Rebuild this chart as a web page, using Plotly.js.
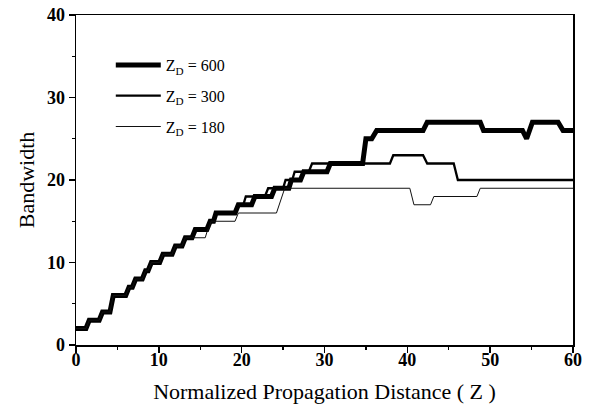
<!DOCTYPE html>
<html>
<head>
<meta charset="utf-8">
<script src="https://cdn.plot.ly/plotly-3.0.1.min.js"></script>
<style>html,body{margin:0;padding:0;background:#fff;}#chart{width:591px;height:413px;}</style>
</head>
<body>
<div id="chart"></div>
<script>
// Z_D = 600 (thick)
var z600_x = [0,1.2,1.6,2.8,3.2,4.1,4.5,6.0,6.4,6.8,7.2,8.0,8.4,8.7,9.1,10.1,10.5,11.6,12.0,12.8,13.2,14.0,14.4,15.8,16.2,16.6,16.9,19.2,19.6,21.2,21.6,23.6,24.0,25.7,26.0,27.1,27.5,30.3,30.7,34.6,35.0,35.7,36.3,41.9,42.4,48.8,49.2,53.9,54.4,55.1,58.2,58.8,60];
var z600_y = [2,2,3,3,4,4,6,6,7,7,8,8,9,9,10,10,11,11,12,12,13,13,14,14,15,15,16,16,17,17,18,18,19,19,20,20,21,21,22,22,25,25,26,26,27,27,26,26,25,27,27,26,26];
// Z_D = 300 (medium)
var z300_x = [0,1.2,1.6,2.8,3.2,4.1,4.5,6.0,6.4,6.8,7.2,8.0,8.4,8.7,9.1,10.1,10.5,11.6,12.0,12.8,13.2,14.0,14.4,15.8,16.2,16.6,16.9,19.2,19.6,20.2,20.5,22.8,23.2,25.0,25.3,26.1,26.4,28.1,28.5,37.9,38.3,41.9,42.4,45.6,46.1,60];
var z300_y = [2,2,3,3,4,4,6,6,7,7,8,8,9,9,10,10,11,11,12,12,13,13,14,14,15,15,16,16,17,17,18,18,19,19,20,20,21,21,22,22,23,23,22,22,20,20];
// Z_D = 180 (thin)
var z180_x = [0,1.2,1.6,2.8,3.2,4.1,4.5,6.0,6.4,6.8,7.2,8.0,8.4,8.7,9.1,10.1,10.5,11.6,12.0,12.8,13.2,15.6,15.9,16.0,16.3,19.2,19.6,24.2,25.2,40.3,40.8,42.8,43.2,48.4,48.8,60];
var z180_y = [2,2,3,3,4,4,6,6,7,7,8,8,9,9,10,10,11,11,12,12,13,13,14,14,15,15,16,16,19,19,17,17,18,18,19,19];

var seriesNames = ['Z<sub>D</sub> = 600','Z<sub>D</sub> = 300','Z<sub>D</sub> = 180'];
var xTicks = [0,10,20,30,40,50,60];
var yTicks = [0,10,20,30,40];

var FONT = 'Liberation Serif, Times New Roman, serif';
var traces = [
  {x: z600_x, y: z600_y, name: seriesNames[0], mode: 'lines', line: {color: '#000', width: 5}, legendgroup: 'a'},
  {x: z300_x, y: z300_y, name: seriesNames[1], mode: 'lines', line: {color: '#000', width: 2.3}, legendgroup: 'b'},
  {x: z180_x, y: z180_y, name: seriesNames[2], mode: 'lines', line: {color: '#111', width: 1}, legendgroup: 'c'}
];

var axisCommon = {
  showgrid: false, zeroline: false, showline: true, linecolor: '#000', linewidth: 1.5,
  mirror: true, ticks: 'outside', ticklen: 6, tickwidth: 1.5, tickcolor: '#000',
  tickfont: {family: FONT, size: 18, color: '#000', weight: 'bold'},
  minor: {ticks: 'outside', ticklen: 3, tickwidth: 1.2, tickcolor: '#000', dtick: 5, showgrid: false}
};

var layout = {
  width: 591, height: 413,
  margin: {l: 76, r: 18, t: 15, b: 68},
  paper_bgcolor: '#fff', plot_bgcolor: '#fff',
  showlegend: true,
  legend: {x: 0.07, y: 0.90, xanchor: 'left', yanchor: 'top', bgcolor: 'rgba(0,0,0,0)',
           font: {family: FONT, size: 16, color: '#000'}, itemwidth: 45, traceorder: 'grouped', tracegroupgap: 7},
  xaxis: Object.assign({}, axisCommon, {range: [0, 60], tickvals: xTicks, ticktext: xTicks.map(String),
           ticklabelstandoff: -8,
           title: {text: 'Normalized Propagation Distance ( Z )', font: {family: FONT, size: 22, color: '#000'}, standoff: 14}}),
  yaxis: Object.assign({}, axisCommon, {range: [0, 40], tickvals: yTicks, ticktext: yTicks.map(String),
           title: {text: 'Bandwidth', font: {family: FONT, size: 22, color: '#000'}, standoff: 6}})
};

Plotly.newPlot('chart', traces, layout, {displayModeBar: false, staticPlot: true});
</script>
</body>
</html>
